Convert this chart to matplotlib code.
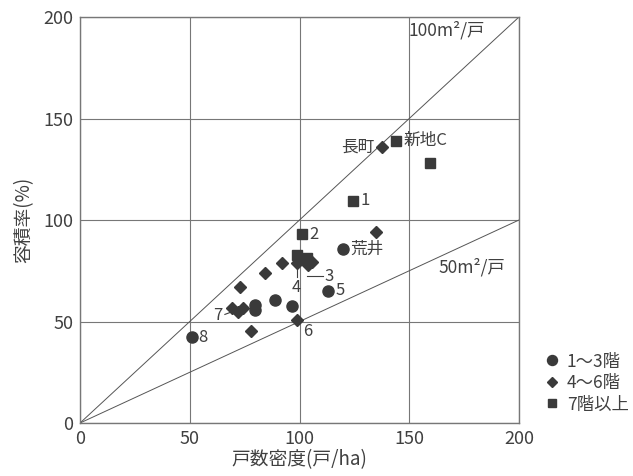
import matplotlib
matplotlib.use("Agg")
import matplotlib.pyplot as plt
import numpy as np

plt.rcParams["font.family"] = ["Noto Sans CJK JP", "DejaVu Sans"]

# 1~3階 (circles)
low_x = [50.9, 79.7, 79.7, 88.8, 96.4, 113.1, 119.7]
low_y = [42.2, 58.1, 55.7, 60.6, 57.6, 65.2, 85.7]

# 4~6階 (diamonds)
mid_x = [137.7, 134.9, 91.9, 98.7, 104.0, 105.5, 84.3, 72.9, 69.4, 74.1, 72.0, 77.9, 98.7]
mid_y = [136.1, 94.2, 78.7, 78.7, 77.8, 79.5, 74.0, 67.2, 56.8, 56.8, 54.5, 45.5, 50.7]

# 7階以上 (squares)
high_x = [144.0, 159.5, 124.5, 101.0, 98.7, 103.3]
high_y = [139.1, 127.9, 109.5, 93.0, 82.8, 81.1]

# point labels: text, text position, alignment
labels = [
    ("長町", (134.0, 136.1), "right"),
    ("新地C", (147.5, 139.1), "left"),
    ("1", (128.0, 109.5), "left"),
    ("2", (104.5, 93.0), "left"),
    ("荒井", (123.0, 85.7), "left"),
    ("5", (116.5, 65.2), "left"),
    ("6", (101.5, 45.0), "left"),
    ("8", (54.0, 42.2), "left"),
]

line_x = [0, 200]
line_100 = [0, 200]
line_50 = [0, 100]

dark = "#3a3a3a"
text_col = "#404040"

fig = plt.figure(figsize=(6.33, 4.76), dpi=100)
ax = fig.add_axes([0.1264, 0.1113, 0.6935, 0.853])

ax.plot(line_x, line_100, color="#555555", lw=0.7, zorder=2)
ax.plot(line_x, line_50, color="#555555", lw=0.7, zorder=2)

ax.plot(low_x, low_y, "o", color=dark, ms=8, ls="none", label="1～3階", zorder=4)
ax.plot(mid_x, mid_y, "D", color=dark, ms=6, ls="none", label="4～6階", zorder=4)
ax.plot(high_x, high_y, "s", color=dark, ms=7, ls="none", label="7階以上", zorder=4)

for txt, (tx, ty), ha in labels:
    ax.text(tx, ty, txt, ha=ha, va="center", fontsize=12, color=text_col, zorder=5)

# leader labels 3, 4, 7
ax.plot([103.5, 110.5], [72.5, 72.5], color=text_col, lw=0.8)
ax.text(111.5, 72.0, "3", ha="left", va="center", fontsize=12, color=text_col)
ax.plot([98.7, 98.7], [77.0, 72.0], color=text_col, lw=0.8)
ax.text(98.7, 67.0, "4", ha="center", va="center", fontsize=12, color=text_col)
ax.plot([66.0, 71.0], [53.5, 55.5], color=text_col, lw=0.8)
ax.text(65.0, 53.0, "7", ha="right", va="center", fontsize=12, color=text_col)

ax.text(149.5, 193.5, "100m²/戸", ha="left", va="center", fontsize=12.5, color=text_col)
ax.text(163.5, 76.5, "50m²/戸", ha="left", va="center", fontsize=12.5, color=text_col)

ax.set_xlim(0, 200)
ax.set_ylim(0, 200)
ax.set_xticks(np.arange(0, 201, 50))
ax.set_yticks(np.arange(0, 201, 50))
ax.grid(True, color="#777777", lw=0.8)
ax.set_axisbelow(True)
ax.tick_params(length=0, labelsize=13, colors=text_col, pad=5)
for s in ax.spines.values():
    s.set_color("#777777")
    s.set_linewidth(1.0)

ax.set_xlabel("戸数密度(戸/ha)", fontsize=13.5, color=text_col, labelpad=1)
ax.set_ylabel("容積率(%)", fontsize=13.5, color=text_col, labelpad=6)

ax.legend(loc="lower left", bbox_to_anchor=(1.02, -0.015), frameon=False,
          fontsize=12.5, handletextpad=0.35, labelspacing=0.2, handlelength=1.0,
          markerscale=0.9, labelcolor=text_col)

fig.savefig("out.png", dpi=100)
